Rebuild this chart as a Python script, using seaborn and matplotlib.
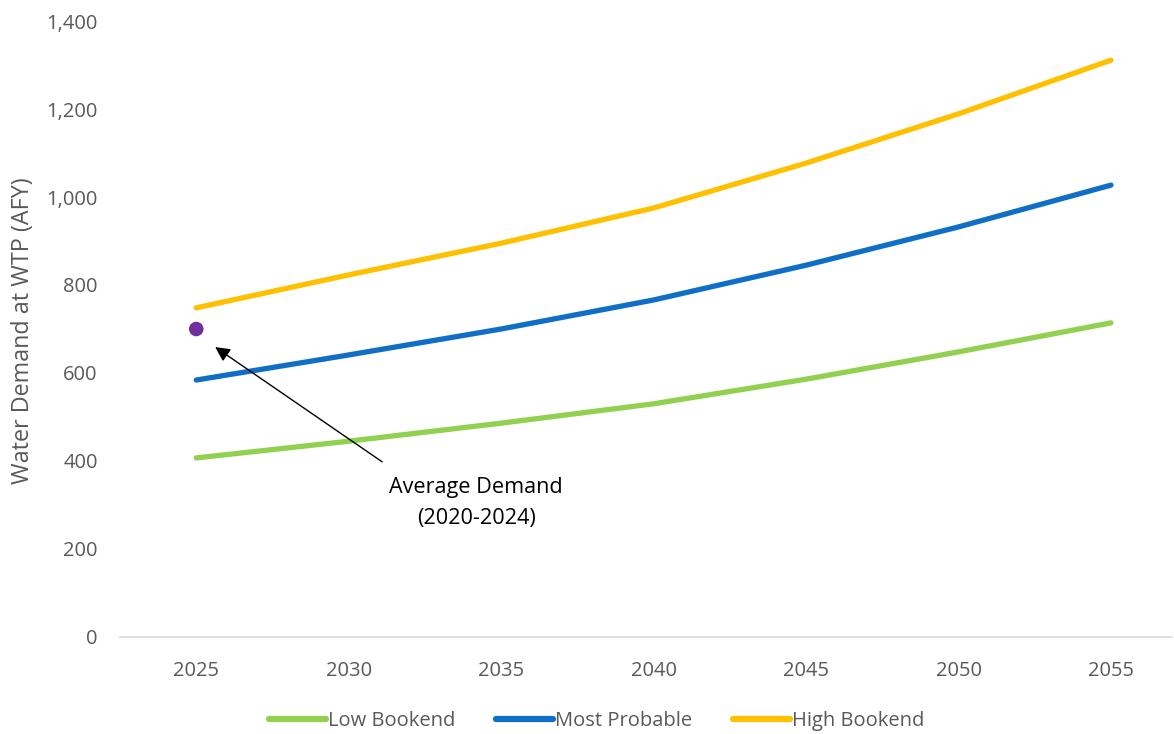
import matplotlib
matplotlib.use("Agg")
import matplotlib.pyplot as plt
import seaborn as sns
import pandas as pd
from matplotlib.ticker import FuncFormatter

years = [2025, 2030, 2035, 2040, 2045, 2050, 2055]
low_bookend = [407, 445, 486, 530, 586, 648, 714]
most_probable = [584, 641, 700, 766, 845, 932, 1027]
high_bookend = [748, 823, 895, 975, 1077, 1189, 1311]
series_names = ["Low Bookend", "Most Probable", "High Bookend"]
avg_year = [2025]
avg_demand = [700]
annot_label = "Average Demand\n(2020-2024)"

sns.set_theme(style="white")
plt.rcParams['font.family'] = ['Open Sans', 'DejaVu Sans']

df = pd.DataFrame({
    "Year": years * 3,
    "Demand": low_bookend + most_probable + high_bookend,
    "Scenario": [series_names[0]] * 7 + [series_names[1]] * 7 + [series_names[2]] * 7,
})

fig = plt.figure(figsize=(11.74, 7.34), dpi=100)
ax = fig.add_axes([120/1174, 97/734, (1172-120)/1174, (637-21)/734])

palette = {"Low Bookend": "#92D050", "Most Probable": "#0F6FC6", "High Bookend": "#FFC000"}
sns.lineplot(data=df, x="Year", y="Demand", hue="Scenario", palette=palette,
             linewidth=3.8, ax=ax, solid_capstyle="round", legend=True)
sns.scatterplot(x=avg_year, y=avg_demand, color="#7030A0", s=110, ax=ax,
                edgecolor="none", zorder=5)

ax.set_xlim(2022.5, 2057.0)
ax.set_ylim(0, 1400)
ax.set_xticks(years)
ax.set_yticks(range(0, 1401, 200))
ax.yaxis.set_major_formatter(FuncFormatter(lambda v, p: f"{int(v):,}"))
ax.tick_params(axis="both", colors="#595959", labelsize=14.5, length=0)
ax.tick_params(axis="x", pad=17)
ax.tick_params(axis="y", pad=16)
for s in ["top", "right", "left"]:
    ax.spines[s].set_visible(False)
ax.spines["bottom"].set_color("#D9D9D9")
ax.spines["bottom"].set_linewidth(1.2)
ax.set_xlabel("")
ax.set_ylabel("Water Demand at WTP (AFY)", color="#595959", fontsize=16.8)
ax.yaxis.set_label_coords(-0.081, 0.497)

ax.annotate("", xy=(2025.62, 659), xytext=(2031.1, 398),
            arrowprops=dict(arrowstyle="-|>", color="black", lw=1.0,
                            mutation_scale=22, shrinkA=0, shrinkB=0))
ax.text(2034.18, 305, annot_label, ha="center", va="center", fontsize=15.6,
        color="black", linespacing=1.6)

handles, labels = ax.get_legend_handles_labels()
for h in handles:
    h.set_linewidth(4.5)
    h.set_solid_capstyle("round")
ax.legend(handles, labels, loc="center", bbox_to_anchor=(0.453, (637-721)/616),
          ncol=3, frameon=False, fontsize=14.5, handlelength=2.85, handletextpad=0.1,
          columnspacing=2.0, labelcolor="#595959")

fig.savefig("out.png", dpi=100)
